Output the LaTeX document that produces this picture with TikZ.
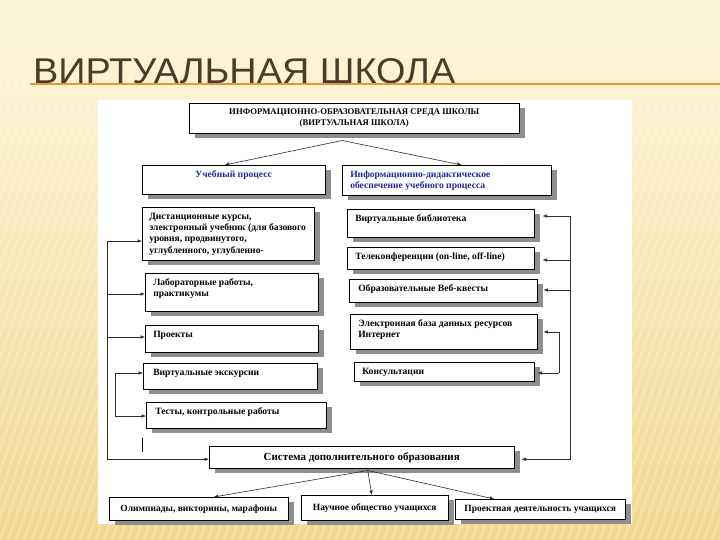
\documentclass[tikz,border=0pt]{standalone}
\usepackage{fontspec}
\setmainfont{Liberation Serif}
\newfontfamily\titlefont{Liberation Sans}
\usetikzlibrary{shadows,arrows.meta}

\definecolor{bgtop}{HTML}{FDF6DC}
\definecolor{bgbot}{HTML}{F0D88E}
\definecolor{titlec}{HTML}{4A3C2C}
\definecolor{rulec}{HTML}{DB9B3C}
\definecolor{shadowc}{HTML}{8E8E8E}
\definecolor{bluec}{HTML}{1E2A9C}
\definecolor{linec}{HTML}{2E2E2E}

\tikzset{
  box/.style={draw=black, line width=0.5pt, fill=white, inner sep=0pt, anchor=north west,
    drop shadow={shadow xshift=6pt, shadow yshift=-5pt, fill=shadowc, opacity=1}},
  conn/.style={draw=linec, line width=0.6pt},
  arr/.style={conn, -{Latex[length=4.5pt, width=3.6pt]}},
  stripe/.style={white, opacity=0.22, line width=2.6pt},
}

% left/top aligned text box: [pad] name x1 y1 x2 y2 text
\newcommand{\lbx}[7][8]{%
  \node[box] (#2) at (#3,#4) {\parbox[t][\dimexpr#6pt-#4pt\relax][t]{\dimexpr#5pt-#3pt\relax}{%
    \raggedright\leftskip=#1pt\rule{0pt}{12pt}#7\par}};}
% centred text box: name x1 y1 x2 y2 text
\newcommand{\cbx}[6]{%
  \node[box] (#1) at (#2,#3) {\parbox[t][\dimexpr#5pt-#3pt\relax][c]{\dimexpr#4pt-#2pt\relax}{%
    \centering #6\par}};}

\begin{document}
\begin{tikzpicture}[x=1pt,y=-1pt]
\useasboundingbox (0,0) rectangle (720,540);
% background
\shade[top color=bgtop, bottom color=bgbot] (0,0) rectangle (720,540);
\begin{scope}
  \clip (0,25) rectangle (720,540);
  \foreach \i in {-200,-192,...,720} \draw[stripe] (\i,540) -- (\i+190,0);
\end{scope}

% title
\node[anchor=base west, inner sep=0pt, text=titlec] (title) at (33,84)
  {\resizebox{422pt}{25pt}{\titlefont ВИРТУАЛЬНАЯ ШКОЛА}};
\draw[rulec, line width=2pt] (30,84.5) -- (720,84.5);

% white panel
\fill[white] (98,100) rectangle (632,524);

% boxes
\begin{scope}[font=\bfseries\fontsize{8.7}{11}\selectfont]
\cbx{top}{189}{103}{519}{133}{ИНФОРМАЦИОННО-ОБРАЗОВАТЕЛЬНАЯ СРЕДА ШКОЛЫ\\(ВИРТУАЛЬНАЯ ШКОЛА)}
\end{scope}

\begin{scope}[font=\bfseries\fontsize{9.6}{11.3}\selectfont]
\lbx[53]{b2}{142}{165}{325}{194}{\textcolor{bluec}{Учебный процесс}}
\lbx{b3}{342}{165}{551}{195}{\textcolor{bluec}{Информационно-дидактическое\\обеспечение учебного процесса}}

\lbx[7]{b4}{142}{207}{314}{260}{Дистанционные курсы,\\электронный учебник (для базового\\уровня, продвинутого,\\углубленного, углубленно-}
\lbx{b5}{145}{273}{318}{311}{Лабораторные работы,\\практикумы}
\lbx{b6}{145}{325}{318}{352}{Проекты}
\lbx[10]{b7}{143}{363}{317}{389}{Виртуальные экскурсии}
\lbx[9]{b8}{146}{402}{326}{428}{Тесты, контрольные работы}

\lbx{b9}{347}{209}{534}{237}{Виртуальные библиотека}
\lbx{b10}{347}{247}{534}{269}{Телеконференции (on-line, off-line)}
\lbx[9]{b11}{349}{279}{537}{302}{Образовательные Веб-квесты}
\lbx{b12}{350}{314}{537}{349}{Электронная база данных ресурсов\\Интернет}
\lbx{b13}{354}{362}{534}{381}{Консультации}
\end{scope}

\begin{scope}[font=\bfseries\fontsize{11}{12}\selectfont]
\cbx{b14}{209}{446}{514}{468}{Система дополнительного образования}
\end{scope}
\begin{scope}[font=\bfseries\fontsize{9.5}{11}\selectfont]
\cbx{b15}{109}{497}{288}{520}{Олимпиады, викторины, марафоны}
\cbx{b16}{301}{495}{448}{520}{Научное общество учащихся}
\cbx{b17}{455}{499}{625}{519}{Проектная деятельность учащихся}
\end{scope}

% top connectors
\coordinate (topsrc) at ([shift={(-12pt,-7pt)}]top.south);
\draw[arr] (topsrc) -- ([xshift=-9pt]b2.north);
\draw[arr] (topsrc) -- ([xshift=15pt]b3.north);

% left trunk
\coordinate (l4) at (107,241);
\coordinate (l5) at (107,294);
\coordinate (l6) at (107,337);
\draw[arr] (l4) |- ([yshift=-2pt]b14.west);
\draw[arr] (l4) -- (l4 -| b4.west);
\draw[arr] (l5) -- (l5 -| b5.west);
\draw[arr] (l6) -- (l6 -| b6.west);
% left inner bracket
\coordinate (m7) at (115,373);
\coordinate (m8) at (115,416);
\draw[conn] (m7) -- (m8);
\draw[arr] (m7) -- (m7 -| b7.west);
\draw[arr] (m8) -- (m8 -| b8.west);
% stray tick
\draw[black, line width=1pt] (142,438) -- (142,452);

% right trunk
\coordinate (r9) at (570,216);
\coordinate (r10) at (570,260);
\coordinate (r11) at (570,290);
\draw[arr, shorten >=7pt] (r9) |- ([yshift=-2pt]b14.east);
\draw[arr, shorten >=8pt] (r9) -- (r9 -| b9.east);
\draw[arr, shorten >=8pt] (r10) -- (r10 -| b10.east);
\draw[arr, shorten >=6pt] (r11) -- (r11 -| b11.east);
% right inner bracket
\coordinate (n12) at (559,332);
\coordinate (n13) at (559,373);
\draw[conn] (n12) -- (n13);
\draw[arr, shorten >=6pt] (n12) -- (n12 -| b12.east);
\draw[arr, shorten >=3pt] (n13) -- (n13 -| b13.east);

% bottom connectors
\coordinate (botsrc) at ([shift={(6pt,-2pt)}]b14.south);
\draw[arr] (botsrc) -- ([xshift=15pt]b15.north);
\draw[arr] (botsrc) -- ([xshift=-3pt]b16.north);
\draw[arr] (botsrc) -- ([xshift=-46pt]b17.north);
\end{tikzpicture}
\end{document}
